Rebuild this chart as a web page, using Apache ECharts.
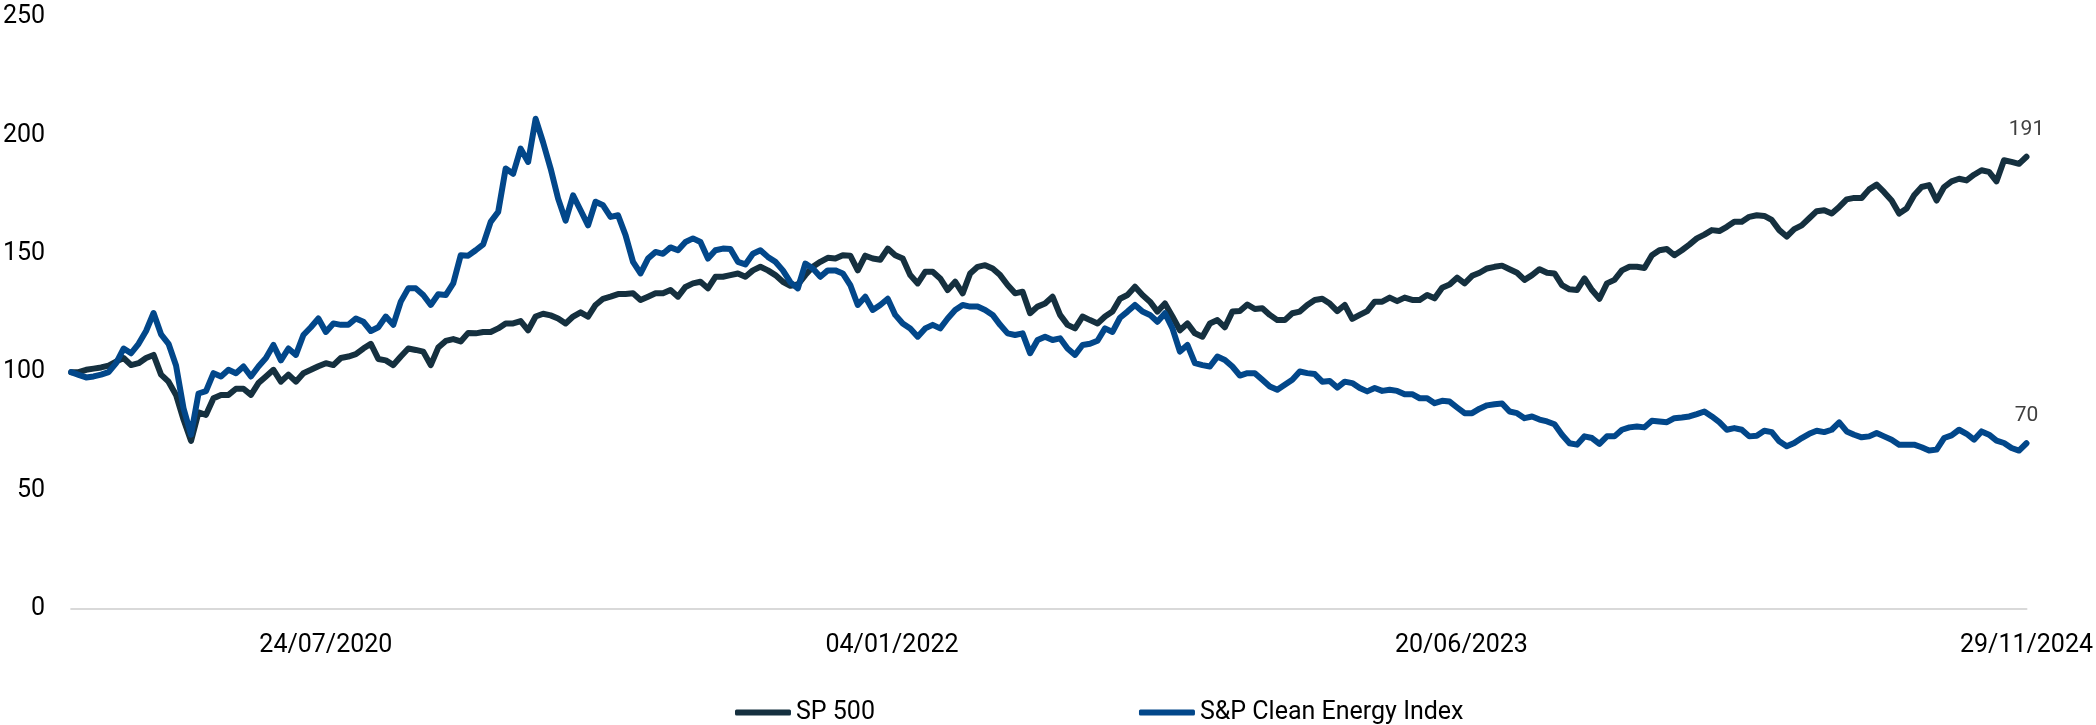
<!DOCTYPE html>
<html>
<head>
<meta charset="utf-8">
<script src="https://cdn.jsdelivr.net/npm/echarts@6/dist/echarts.min.js"></script>
<style>html,body{margin:0;padding:0;background:#fff}#c{width:2096px;height:725px}</style>
</head>
<body>
<div id="c"></div>
<script>
// Weekly observations, first on 29/11/2019, last on 29/11/2024
const startDate = '29/11/2019';
const stepDays = 7;
const seriesNames = ['SP 500', 'S&P Clean Energy Index'];
const tickLabels = ['24/07/2020', '04/01/2022', '20/06/2023', '29/11/2024'];
const yTicks = [0, 50, 100, 150, 200, 250];

const sp500 = [
100,100,101,101.5,102,102.8,104.5,106,103,103.8,
106,107.3,99,96,90.4,80,71,83,82,89,
90.4,90.4,93,93,90.4,95.4,98.2,101,96,99,
96,99.6,101,102.5,103.8,103,106,106.6,107.6,110,
112,105.6,105,103,106.6,110,109.4,108.7,103,110.4,
113.2,114,113,116.6,116.4,117,117,118.5,120.6,120.6,
121.6,117.7,123.5,124.7,124,122.7,120.6,123.5,125.3,123.5,
128.4,131,131.9,133,133,133.3,130.5,131.9,133.3,133.3,
134.7,131.9,136,137.5,138.2,135.4,140.3,140.3,141,141.7,
140.3,143,144.5,143,141,138.2,136.5,137,141,144.5,
146.6,148.3,148,149.4,149.2,143,149.2,148,147.5,152.2,
149.4,148,141,137.5,142.4,142.4,139.6,134.7,138.2,133.3,
141.7,144.5,145.2,143.8,141,136.8,133.3,134,124.9,127.7,
129,131.9,124.2,120,118.5,123.5,122,120.6,123.5,125.6,
131,132.6,136.1,132.6,129.8,125.6,129,123.5,117.7,120.6,
116.4,115,120.6,122,119,125.6,125.8,128.6,126.7,127,
124.2,122,122,124.9,125.6,128.4,130.5,131,129,125.8,
128.4,122.5,124.2,125.8,129.8,129.8,131.5,130,131.5,130.5,
130.5,132.6,131.2,135.7,137,139.9,137.5,140.7,142,143.8,
144.5,145,143.5,142,139,141,143.5,142,141.7,136.8,
135,134.7,139.6,134.7,131,137.5,139,143,144.5,144.5,
144,149.4,151.5,152,149.4,151.5,153.9,156.5,158.1,160,
159.6,161.4,163.5,163.5,165.6,166.3,166,164.3,160,157.3,
160.4,162,165,168,168.4,167,169.8,173,173.6,173.6,
177.2,179.2,176,172.5,167,169.1,174.7,178.2,179,172.5,
178.2,180.6,181.7,181,183.4,185.3,184.6,180.6,189.5,188.8,
188,191
];

const cleanEnergy = [
100,98.9,97.8,98.2,99,100,103.8,110,108,112,
117.4,125,116,112,102.8,84.8,73.6,91,92,99.6,
98.2,101,99.6,102.4,98.2,102.4,106,111.5,105,110,
107.3,115.7,119,122.7,117,120.6,120,120,122.7,121.3,
117.4,119,123.5,120,129.8,135.4,135.4,132.6,128.4,132.9,
132.6,137.5,149.4,149.2,151.5,154,163.5,167.7,186,183.8,
194.4,188.8,207,197,186,173.3,164,174.7,168.4,162,
172,170.5,165.6,166.3,157.9,146.6,141.7,148,150.8,150,
152.7,151.5,155,156.5,155,148,151.5,152.2,152,146.6,
145.5,150,151.5,148.7,146.6,143,138,135.4,145.9,143.8,
140.3,143,143,141.7,136.8,128.4,131.9,126.3,128.4,131,
124.2,120.6,118.5,115,118.5,120,118.5,122.7,126.3,128.4,
127.7,127.7,126.3,124.2,120,116.4,115.7,116.4,108,113.6,
115,113.6,114.3,110,107.3,111.5,112,113.3,118.5,117,
123,125.6,128.4,125.6,124.2,121.3,124.9,118.5,108.7,111.5,
103.8,103,102.4,106.6,105.2,102.4,98.6,99.6,99.6,96.8,
94,92.6,94.7,96.8,100.3,99.6,99.2,96,96.3,93.5,
96,95.4,93.3,91.9,93.3,92.1,92.6,92.1,90.7,90.7,
89,89,86.9,87.9,87.6,85.1,82.7,82.7,84.6,86,
86.5,86.8,83.4,82.7,80.6,81.3,80,79.2,78,73.6,
70,69.4,72.9,72.2,69.7,72.9,72.9,75.7,76.7,77.1,
76.7,79.5,79.2,78.9,80.6,80.9,81.3,82.3,83.4,81.3,
78.9,75.7,76.4,75.7,72.9,73.2,75.3,74.7,70.8,68.7,
70.1,72.2,74,75.3,74.7,75.7,78.8,75,73.6,72.5,
72.9,74.3,72.9,71.5,69.4,69.4,69.4,68.3,66.9,67.3,
72.2,73.3,75.7,74,71.5,75,73.6,71.1,70.1,68,
66.9,70
];

function parseDMY(s) {
  const p = s.split('/');
  return Date.UTC(+p[2], +p[1] - 1, +p[0]);
}
function fmtDMY(t) {
  const d = new Date(t);
  const dd = String(d.getUTCDate()).padStart(2, '0');
  const mm = String(d.getUTCMonth() + 1).padStart(2, '0');
  return dd + '/' + mm + '/' + d.getUTCFullYear();
}
const t0 = parseDMY(startDate);
const dates = sp500.map((_, i) => t0 + i * stepDays * 86400000);
const tickValues = tickLabels.map(parseDMY);

const colors = ['#15303F', '#02478A'];
const FONT = 'Roboto, "Open Sans", sans-serif';

function makeSeries(name, values, color) {
  const last = values.length - 1;
  return {
    name: name,
    type: 'line',
    data: values.map((v, i) => [dates[i], v]),
    showSymbol: false,
    symbol: 'none',
    lineStyle: { color: color, width: 6, cap: 'round', join: 'round' },
    itemStyle: { color: color },
    markPoint: {
      symbol: 'circle',
      symbolSize: 1,
      itemStyle: { color: 'rgba(0,0,0,0)' },
      label: {
        show: true, position: 'top', distance: 16,
        color: '#404040', fontSize: 21, fontFamily: FONT,
        formatter: (p) => String(p.value)
      },
      data: [{ coord: [dates[last], values[last]], value: values[last] }]
    }
  };
}

const chart = echarts.init(document.getElementById('c'), null, { renderer: 'canvas' });
chart.setOption({
  animation: false,
  backgroundColor: '#ffffff',
  color: colors,
  textStyle: { fontFamily: FONT },
  grid: { left: 70, right: 69, top: 17, bottom: 116, containLabel: false },
  legend: {
    data: seriesNames,
    left: 730,
    top: 695,
    itemWidth: 56,
    itemHeight: 6,
    itemGap: 264,
    icon: 'roundRect',
    textStyle: { fontSize: 25, color: '#000', fontFamily: FONT }
  },
  xAxis: {
    type: 'value',
    min: dates[0],
    max: dates[dates.length - 1],
    splitLine: { show: false },
    axisLine: { show: true, onZero: true, lineStyle: { color: '#d9d9d9', width: 2 } },
    axisTick: { show: false },
    axisLabel: {
      customValues: tickValues,
      formatter: (v) => fmtDMY(v),
      fontSize: 25, color: '#000', margin: 24, fontFamily: FONT,
      showMinLabel: true, showMaxLabel: true, hideOverlap: false
    }
  },
  yAxis: {
    type: 'value',
    min: yTicks[0],
    max: yTicks[yTicks.length - 1],
    interval: yTicks[1] - yTicks[0],
    splitLine: { show: false },
    axisLine: { show: false },
    axisTick: { show: false },
    axisLabel: { fontSize: 25, color: '#000', margin: 26, fontFamily: FONT }
  },
  series: [
    makeSeries(seriesNames[0], sp500, colors[0]),
    makeSeries(seriesNames[1], cleanEnergy, colors[1])
  ]
});
</script>
</body>
</html>
